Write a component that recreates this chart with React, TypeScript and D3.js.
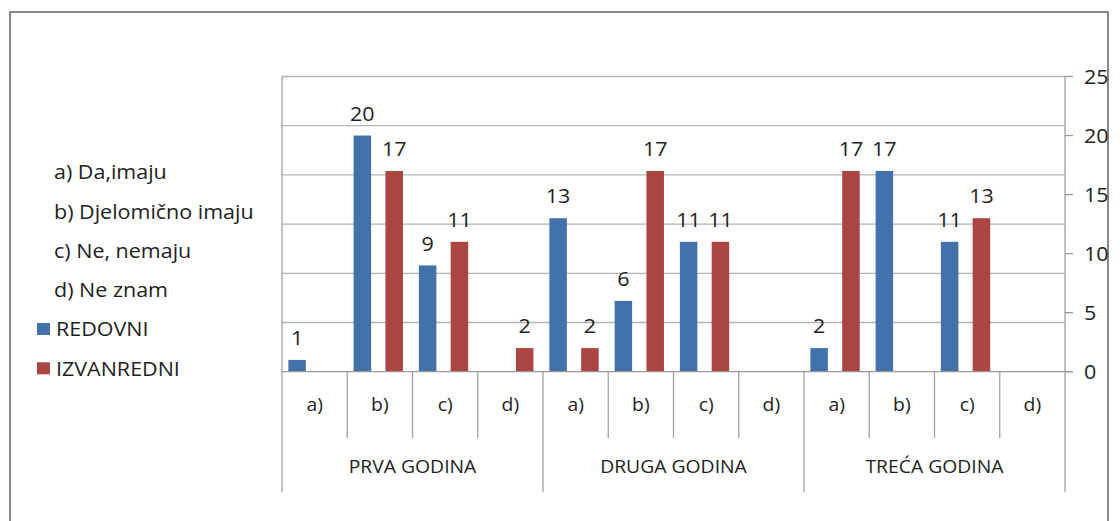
import React, { useEffect } from "react";
import * as d3 from "d3";

// answer options and years
const options = ["a)", "b)", "c)", "d)"];
const years = ["PRVA GODINA", "DRUGA GODINA", "TREĆA GODINA"];
const legendTexts = ["a) Da,imaju", "b) Djelomično imaju", "c) Ne, nemaju", "d) Ne znam"];

// values per year, per option (null = no bar)
const redovni: (number | null)[] = [1, 20, 9, null, 13, 6, 11, null, 2, 17, 11, null];
const izvanredni: (number | null)[] = [null, 17, 11, 2, 2, 17, 11, null, 17, null, 13, null];

const seriesNames = ["REDOVNI", "IZVANREDNI"];
const seriesColors = ["#4371AA", "#AA4542"];
const yTicks = [0, 5, 10, 15, 20, 25];

const W = 1120;
const H = 521;
const font = "'Open Sans', sans-serif";

// the original text looks a bit wider than Open Sans, so stretch it slightly
function T({ x, y, size, anchor = "start", children }: any) {
  return (
    <text
      transform={`translate(${x},${y}) scale(1.075,1)`}
      dy="0.36em"
      textAnchor={anchor}
      fontSize={size}
      fill="#1e1e1e"
    >
      {children}
    </text>
  );
}

export default function App() {
  useEffect(() => {
    document.body.style.margin = "0";
  }, []);

  const left = 282;
  const right = 1065;
  const top = 76.5;
  const bottom = 371.7;

  const cats = years.flatMap((y) => options.map((o) => `${y}|${o}`));
  const x = d3.scaleBand().domain(cats).range([left, right]).padding(0);
  const inner = d3
    .scaleBand()
    .domain(seriesNames)
    .range([0, x.bandwidth()])
    .paddingInner(0.45)
    .paddingOuter(0.25)
    .align(0.4);
  const y = d3.scaleLinear().domain([0, 25]).range([bottom, top]);
  // gridlines belong to a hidden primary axis with 6 steps
  const grid = d3.scaleLinear().domain([0, 6]).range([bottom, top]);

  const series = [redovni, izvanredni];
  const catW = x.bandwidth();
  const yearW = catW * options.length;

  return (
    <svg width={W} height={H} style={{ display: "block", background: "#fff" }} fontFamily={font}>
      <rect x={10} y={12} width={1098} height={530} fill="#fff" stroke="#8a8a8a" strokeWidth={2} />

      {/* gridlines */}
      {d3.range(1, 7).map((t) => (
        <line key={t} x1={left} x2={right} y1={grid(t)} y2={grid(t)} stroke="#b4b4b4" strokeWidth={1.3} />
      ))}

      {/* bars */}
      {series.map((vals, si) =>
        vals.map((v, i) => {
          if (v == null) return null;
          const bx = (x(cats[i]) || 0) + (inner(seriesNames[si]) || 0);
          return (
            <g key={`${si}-${i}`}>
              <rect x={bx} y={y(v)} width={inner.bandwidth()} height={bottom - y(v)} fill={seriesColors[si]} />
              <T x={bx + inner.bandwidth() / 2} y={y(v) - 22} size={20} anchor="middle">
                {v}
              </T>
            </g>
          );
        })
      )}

      {/* baseline & axes lines */}
      <line x1={left} x2={right + 8} y1={bottom} y2={bottom} stroke="#999" strokeWidth={1.3} />
      <line x1={left} x2={left} y1={top} y2={492} stroke="#a0a0a0" strokeWidth={1.3} />
      <line x1={right} x2={right} y1={top} y2={bottom} stroke="#a0a0a0" strokeWidth={1.3} />

      {/* right axis */}
      {yTicks.map((t) => (
        <g key={t}>
          <line x1={right} x2={right + 8} y1={y(t)} y2={y(t)} stroke="#999" strokeWidth={1.3} />
          <T x={1084} y={y(t)} size={20}>
            {t}
          </T>
        </g>
      ))}

      {/* category separators and labels */}
      {cats.map((c, i) => {
        const x0 = x(c) || 0;
        const isYearEnd = (i + 1) % options.length === 0;
        return (
          <g key={c}>
            <line
              x1={x0 + catW}
              x2={x0 + catW}
              y1={bottom}
              y2={isYearEnd ? 492 : 438}
              stroke="#a0a0a0"
              strokeWidth={1.3}
            />
            <T x={x0 + catW / 2} y={405} size={18} anchor="middle">
              {options[i % options.length]}
            </T>
          </g>
        );
      })}
      {years.map((yr, i) => (
        <T key={yr} x={left + yearW * i + yearW / 2} y={467} size={18} anchor="middle">
          {yr}
        </T>
      ))}

      {/* legend */}
      {legendTexts.map((t, i) => (
        <T key={t} x={54} y={172 + i * 39.3} size={20}>
          {t}
        </T>
      ))}
      {seriesNames.map((s, i) => (
        <g key={s}>
          <rect x={37} y={329 + i * 39.3 - 6} width={13} height={12} fill={seriesColors[i]} />
          <T x={56} y={329 + i * 39.3} size={20}>
            {s}
          </T>
        </g>
      ))}
    </svg>
  );
}
